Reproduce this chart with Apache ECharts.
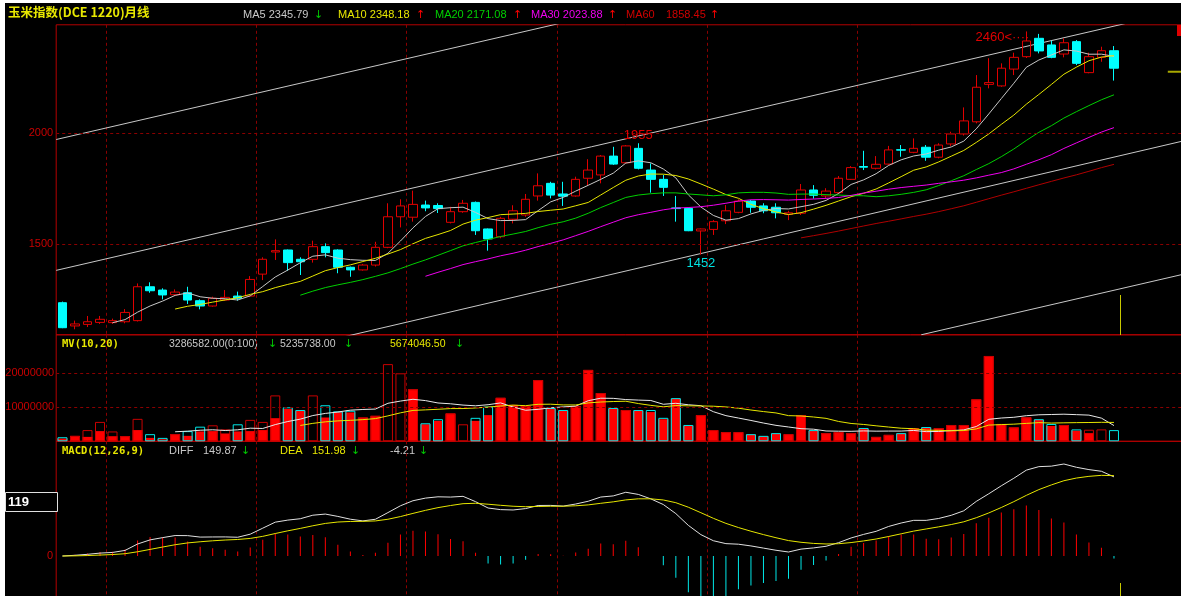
<!DOCTYPE html>
<html><head><meta charset="utf-8">
<script src="https://cdn.jsdelivr.net/npm/echarts/dist/echarts.min.js"></script>
<style>
html,body{margin:0;padding:0;background:#fff;width:1181px;height:596px;overflow:hidden;position:relative}
#c{position:absolute;left:5px;top:3px;width:1210px;height:593px;background:#000}
</style></head><body><div id="c"></div>
<script>
// ---------- data (monthly) ----------
const opens  = [1235,1130,1137,1146,1145,1149,1154,1307,1292,1271,1280,1244,1220,1247,1265,1265,1364,1464,1473,1431,1431,1488,1473,1395,1383,1405,1485,1623,1621,1676,1674,1598,1646,1688,1568,1533,1612,1631,1717,1774,1726,1717,1797,1812,1897,1867,1932,1834,1792,1663,1661,1559,1566,1605,1643,1694,1672,1666,1634,1639,1744,1717,1732,1792,1850,1842,1861,1926,1914,1937,1892,1952,1997,2052,2221,2214,2290,2346,2429,2399,2358,2414,2274,2343,2373];
const closes = [1122,1139,1149,1160,1154,1191,1307,1289,1270,1283,1247,1220,1255,1259,1255,1340,1431,1470,1416,1420,1488,1461,1395,1383,1405,1485,1623,1672,1679,1663,1660,1646,1684,1560,1523,1616,1650,1702,1763,1721,1716,1792,1834,1897,1861,1943,1842,1792,1756,1660,1560,1568,1601,1650,1694,1666,1650,1641,1641,1744,1720,1739,1797,1845,1847,1860,1925,1924,1932,1892,1947,1997,2056,2208,2229,2294,2343,2417,2372,2343,2409,2316,2346,2373,2294];
const highs  = [1240,1154,1175,1175,1163,1206,1322,1327,1300,1295,1307,1250,1262,1292,1285,1355,1440,1521,1475,1440,1515,1503,1476,1398,1410,1510,1684,1702,1741,1696,1684,1668,1699,1692,1570,1623,1675,1726,1819,1781,1781,1804,1883,1902,1939,1947,1955,1864,1812,1717,1665,1570,1608,1676,1702,1699,1684,1684,1650,1771,1766,1752,1807,1852,1921,1897,1943,1947,1977,1947,1955,2007,2117,2263,2339,2316,2364,2460,2449,2418,2429,2421,2364,2391,2394];
const lows   = [1120,1115,1125,1139,1139,1142,1150,1280,1250,1265,1229,1205,1217,1244,1244,1262,1337,1428,1379,1360,1416,1440,1368,1352,1380,1398,1481,1575,1601,1648,1640,1593,1641,1541,1470,1526,1593,1623,1696,1706,1672,1714,1762,1774,1857,1864,1837,1732,1717,1601,1558,1452,1541,1590,1639,1641,1639,1616,1608,1631,1705,1706,1726,1789,1834,1837,1857,1894,1910,1876,1887,1943,1990,2045,2203,2210,2263,2340,2361,2339,2343,2308,2271,2323,2238];
// volume (outer bar) and the solid red part, in units of 1e6
const volumes = [1.2,1.6,3.3,5.7,2.9,1.5,6.6,2.1,1.0,2.1,3.0,4.3,4.7,3.5,5.0,6.3,5.7,13.5,10.0,9.2,13.5,10.6,8.8,9.0,7.0,7.5,22.7,20.0,15.3,5.3,6.5,8.2,5.0,6.9,10.2,12.8,10.7,10.4,18.0,9.8,9.2,10.4,21.0,14.2,9.8,9.2,9.2,9.2,6.9,12.7,4.8,7.7,3.3,2.7,2.7,2.1,1.6,2.4,2.1,7.7,3.3,2.4,2.7,2.4,3.9,1.3,1.9,2.4,3.9,4.2,3.9,4.8,4.8,12.35,25.1,5.1,4.1,7.05,6.5,5.1,4.8,3.5,3.4,3.5,3.2866];
const volFill = [0.8,1.6,1.3,3.0,1.5,1.5,3.3,1.0,0.6,2.1,1.6,2.9,3.0,2.3,2.9,3.0,3.3,6.8,9.5,9.0,0,7.0,8.6,8.5,7.0,7.5,0,0,15.3,5.0,6.0,8.2,0,6.0,7.7,12.8,10.7,10.4,18.0,9.5,9.0,10.4,21.0,14.2,9.5,9.2,9.0,8.6,6.5,12.5,4.6,7.7,3.3,2.7,2.7,2.0,1.5,2.3,2.1,7.7,3.1,2.4,2.7,2.4,3.7,1.3,1.9,2.3,3.9,4.0,3.9,4.8,4.8,12.35,25.1,5.1,4.1,7.05,6.3,4.5,4.8,3.1,2.4,0,0];
// hand-drawn channel lines: [categoryIndex, price] end points
const channelLines = [
  [[-0.5,1972],[40,2500]],
  [[-0.5,1381],[85,2497]],
  [[22.5,1081],[89.5,1965]],
  [[68.6,1090],[89.5,1363]]
];
const priceMarker = [[88.3,2278],[89.5,2278]];
const priceTicks = [1500,2000];
const volTicks = [10000000,20000000];
const markHigh = {idx:77, value:2460}, markTop = {idx:46, value:1955}, markLow = {idx:51, value:1452};

// ---------- derived ----------
const N = 91;
const cats = [];
for (let i=0;i<N;i++){ const m = 8+i; cats.push((2004+Math.floor(m/12))+'-'+String(m%12+1).padStart(2,'0')); }
const kdata = opens.map((o,i)=>[o,closes[i],lows[i],highs[i]]);
function ma(arr,p){ return arr.map((v,i)=>{ if(i<p-1) return '-'; let s=0; for(let j=i-p+1;j<=i;j++) s+=arr[j]; return +(s/p).toFixed(2);}); }
function ema(arr,p){ const k=2/(p+1); const out=[]; arr.forEach((v,i)=>out.push(i===0?v:out[i-1]+k*(v-out[i-1]))); return out; }
const e12=ema(closes,12), e26=ema(closes,26);
const diff=e12.map((v,i)=>v-e26[i]);
const dea=[]; diff.forEach((v,i)=>dea.push(i===0?0:dea[i-1]+0.2*(v-dea[i-1])));
const macd=diff.map((v,i)=>2*(v-dea[i]));
const volAbs = volumes.map(v=>v*1e6), fillAbs = volFill.map(v=>v*1e6);
const mv10 = ma(volAbs,10), mv20 = ma(volAbs,20);
const MACD_H = 160, ZERO_FROM_TOP = 114.7;
const dmax = Math.max(...diff);
const perPx = dmax/92;
const macdMax = perPx*ZERO_FROM_TOP, macdMin = -perPx*(MACD_H-ZERO_FROM_TOP);

const RED='#e00000', CYAN='#00ffff', FRAME='#b40000', GRIDC='#8b0000';
const gridW = N*12.518;
const grids = [
  {left:51.2, top:21.8, width:gridW, height:310, show:true, borderColor:FRAME, borderWidth:1, backgroundColor:'transparent', outerBoundsMode:'none'},
  {left:51.2, top:331.8, width:gridW, height:106.5, show:true, borderColor:FRAME, borderWidth:1, backgroundColor:'transparent', outerBoundsMode:'none'},
  {left:51.2, top:438.3, width:gridW, height:MACD_H, show:true, borderColor:FRAME, borderWidth:1, backgroundColor:'transparent', outerBoundsMode:'none'}
];
const vsplit = {show:true, interval:(i)=> i%12===4 && i<70, lineStyle:{color:GRIDC, type:[3,3], width:1}};
function catAxis(gi){ return {type:'category', gridIndex:gi, data:cats, boundaryGap:true, axisLine:{show:false}, axisTick:{show:false}, axisLabel:{show:false}, splitLine:vsplit}; }
const lblStyle = {color:'#c80000', fontSize:11, fontFamily:'Liberation Sans'};

const dash = {color:GRIDC, type:[3,3], width:1};
const line = (data, color, xi, yi) => ({type:'line', data, xAxisIndex:xi, yAxisIndex:yi, symbol:'none', showSymbol:false, lineStyle:{color, width:1}, silent:true, z:3});

const series = [
  {type:'candlestick', data:kdata, xAxisIndex:0, yAxisIndex:0, barWidth:9, z:2,
   itemStyle:{color:'transparent', color0:CYAN, borderColor:RED, borderColor0:CYAN, borderWidth:1},
   markLine:{symbol:'none', silent:true, label:{show:false}, lineStyle:dash, data:priceTicks.map(v=>({yAxis:v}))},
   markPoint:{symbol:'circle', symbolSize:0, silent:true, data:[
     {coord:[markTop.idx, markTop.value], label:{show:true, formatter:String(markTop.value), position:'top', distance:1, color:RED, fontSize:13, fontFamily:'Liberation Sans'}},
     {coord:[markLow.idx, markLow.value], label:{show:true, formatter:String(markLow.value), position:'bottom', distance:2, color:'#00e0e0', fontSize:13, fontFamily:'Liberation Sans'}},
     {coord:[markHigh.idx, markHigh.value], label:{show:true, formatter:markHigh.value+'<····', position:'left', distance:1, offset:[4,6], color:RED, fontSize:13, fontFamily:'Liberation Sans'}}
   ]}},
  line(ma(closes,5), '#c8c8c8', 0, 0),
  line(ma(closes,10), '#e6e600', 0, 0),
  line(ma(closes,20), '#00d000', 0, 0),
  line(ma(closes,30), '#f000f0', 0, 0),
  line(ma(closes,60), '#b00000', 0, 0),
];
channelLines.forEach(seg=>{ series.push({type:'line', data:seg, xAxisIndex:3, yAxisIndex:0, symbol:'none', clip:true, lineStyle:{color:'#c8c8c8', width:1}, silent:true, z:1}); });
series.push({type:'line', data:priceMarker, xAxisIndex:3, yAxisIndex:0, symbol:'none', clip:false, lineStyle:{color:'#a8a800', width:2}, silent:true});
// volume
series.push({type:'bar', data:fillAbs, xAxisIndex:1, yAxisIndex:1, barWidth:10, itemStyle:{color:'#ff0000'}, silent:true, z:2,
  markLine:{symbol:'none', silent:true, label:{show:false}, lineStyle:dash, data:volTicks.map(v=>({yAxis:v}))}});
series.push({type:'bar', data:volAbs.map((v,i)=>({value:v, itemStyle:{borderColor: closes[i]>=opens[i] ? '#c80000' : '#00e8e8'}})), xAxisIndex:1, yAxisIndex:1, barWidth:10, barGap:'-100%', itemStyle:{color:'transparent', borderWidth:1}, silent:true, z:3});
series.push(line(mv10, '#e8e8e8', 1, 1));
series.push(line(mv20, '#e6e600', 1, 1));
// macd
series.push({type:'bar', data:macd.map(v=>({value:v, itemStyle:{color: v>=0 ? '#ff0000' : '#00e8e8'}})), xAxisIndex:2, yAxisIndex:2, barWidth:1, silent:true});
series.push(line(diff, '#e0e0e0', 2, 2));
series.push(line(dea, '#e6e600', 2, 2));

const T = (text,x,y,fill,font) => ({type:'text', x:x-5, y:y-3, silent:true, style:{text, fill, font: font||'11px "Liberation Sans"', verticalAlign:'middle', textVerticalAlign:'middle'}});
const gray='#c8c8c8', yel='#e8e800', grn='#00c800', red='#ff0000', arrowF='11px "DejaVu Sans"';
const graphic = [
  T('玉米指数(DCE 1220)月线', 8, 12.5, '#e8e800', 'bold 12.5px "Noto Sans CJK SC"'),
  T('MA5 2345.79',243,15,gray), T('↓',314,15,grn,arrowF),
  T('MA10 2348.18',338,15,yel), T('↑',416,15,red,arrowF),
  T('MA20 2171.08',435,15,'#00d000'), T('↑',513,15,red,arrowF),
  T('MA30 2023.88',531,15,'#f000f0'), T('↑',608,15,red,arrowF),
  T('MA60',626,15,'#d00000'), T('1858.45',666,15,'#d00000'), T('↑',710,15,red,arrowF),
  T('MV(10,20)',62,344,yel,'bold 10.5px "DejaVu Sans Mono"'),
  T('3286582.00(0:100)',169,344,gray,'10.5px "Liberation Sans"'), T('↓',268,344,grn,arrowF),
  T('5235738.00',280,344,gray,'10.5px "Liberation Sans"'), T('↓',344,344,grn,arrowF),
  T('5674046.50',390,344,yel,'10.5px "Liberation Sans"'), T('↓',455,344,grn,arrowF),
  T('MACD(12,26,9)',62,451,yel,'bold 10.5px "DejaVu Sans Mono"'),
  T('DIFF',169,451,gray), T('149.87',203,451,gray), T('↓',241,451,grn,arrowF),
  T('DEA',280,451,yel), T('151.98',312,451,yel), T('↓',351,451,grn,arrowF),
  T('-4.21',390,451,gray), T('↓',419,451,grn,arrowF),
  {type:'rect', shape:{x:0.5, y:489.5, width:52, height:19}, style:{fill:'#000', stroke:'#e0e0e0', lineWidth:1}, silent:true, z:10},
  {type:'text', x:3, y:499.5, silent:true, z:11, style:{text:'119', fill:'#ffffff', font:'bold 13px "Liberation Sans"', verticalAlign:'middle', textVerticalAlign:'middle'}},
  {type:'line', shape:{x1:1115.5, y1:292, x2:1115.5, y2:332}, style:{stroke:'#c8c800', lineWidth:1}, silent:true},
  {type:'line', shape:{x1:1115.5, y1:580, x2:1115.5, y2:593}, style:{stroke:'#c8c800', lineWidth:1}, silent:true},
  {type:'rect', shape:{x:1172, y:22, width:4, height:11}, style:{fill:'#e00000'}, silent:true}
];

const chart = echarts.init(document.getElementById('c'), null, {renderer:'canvas'});
chart.setOption({
  animation:false, backgroundColor:'#000',
  grid:grids,
  xAxis:[catAxis(0), catAxis(1), catAxis(2),
    {type:'value', gridIndex:0, min:-0.5, max:N-0.5, show:false}],
  yAxis:[
    {type:'value', gridIndex:0, min:1090, max:2490, interval:10, axisLine:{show:false}, axisTick:{show:false}, splitLine:{show:false},
     axisLabel:Object.assign({margin:3, formatter:v=> priceTicks.includes(v)? String(v):''}, lblStyle)},
    {type:'value', gridIndex:1, min:0, max:31.32e6, interval:10e6, axisLine:{show:false}, axisTick:{show:false}, splitLine:{show:false},
     axisLabel:Object.assign({margin:2, formatter:v=> volTicks.includes(v)? String(v):''}, lblStyle)},
    {type:'value', gridIndex:2, min:macdMin, max:macdMax, axisLine:{show:false}, axisTick:{show:false}, splitLine:{show:false},
     axisLabel:Object.assign({margin:3, showMinLabel:false, showMaxLabel:false, formatter:v=> Math.abs(v)<1e-9? '0':''}, lblStyle)}
  ],
  series, graphic
});
</script></body></html>
